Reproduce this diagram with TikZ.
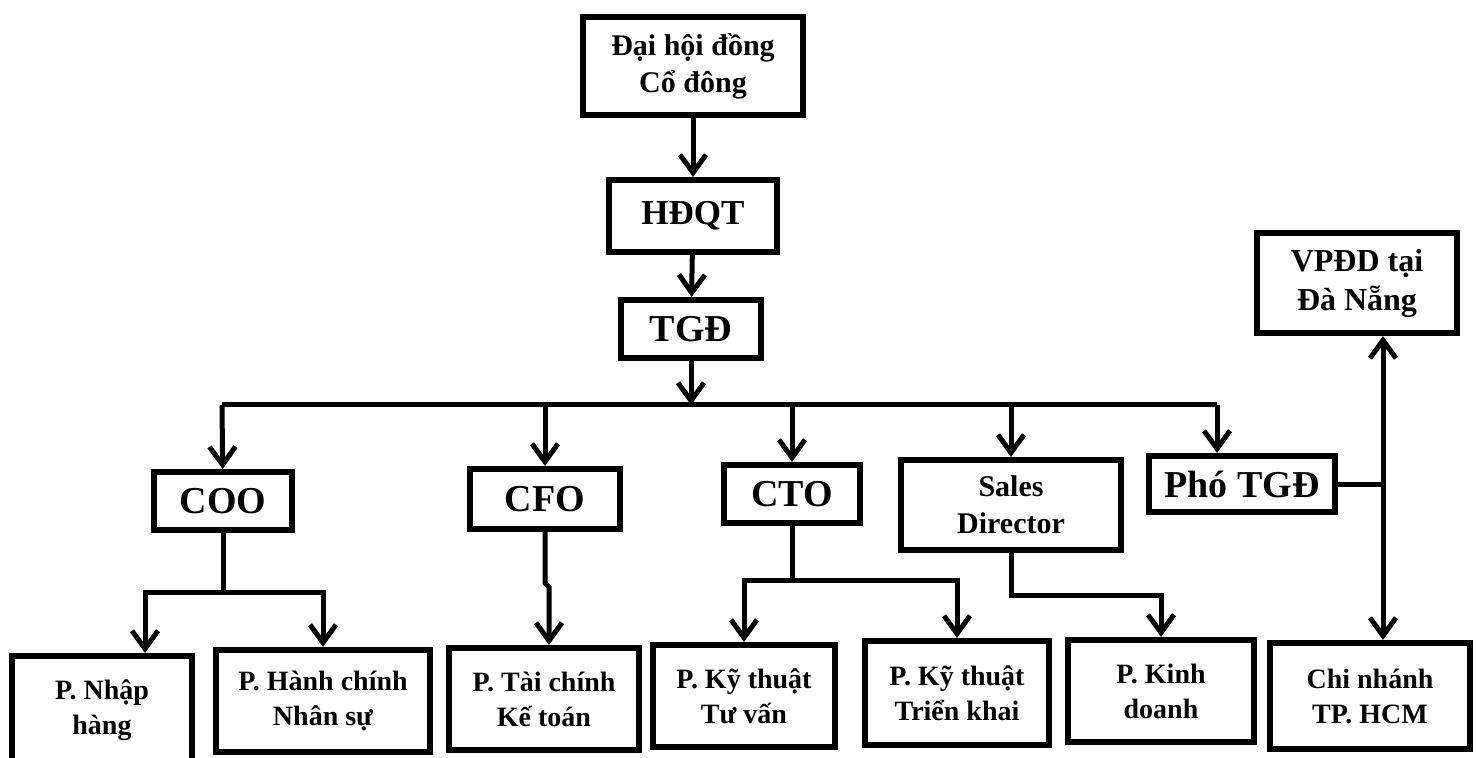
\documentclass[tikz,border=0pt]{standalone}
\usepackage{fontspec}
\setmainfont{Liberation Serif}
\usetikzlibrary{positioning, arrows.meta, calc}

\begin{document}
\begin{tikzpicture}[
    x=0.5pt, y=-0.5pt, % one unit is one pixel of the chart
    box/.style={draw, line width=3pt, align=center, inner sep=0pt},
    big/.style={font=\fontsize{19}{23}\selectfont\bfseries},
    mid/.style={font=\fontsize{15}{18.5}\selectfont\bfseries},
    small/.style={font=\fontsize{14}{17.5}\selectfont\bfseries},
    arr/.style={-{Straight Barb[length=9pt,width=13pt]}, line width=2.5pt},
    link/.style={line width=2.5pt}
]
    \clip (0,0) rectangle (1476,758);

    % Place the top nodes
    \node (dhcd) [box, mid, minimum width=110pt, minimum height=49pt] at (693,66) {Đại hội đồng\\Cổ đông};
    \node (hdqt) [box, font=\fontsize{17.5}{21}\selectfont\bfseries, minimum width=84pt, minimum height=36pt] at (693,216) {HĐQT};
    \node (tgd) [box, big, minimum width=70pt, minimum height=29pt] at (691,329) {TGĐ};

    % the directors
    \node (coo) [box, big, minimum width=69pt, minimum height=29pt] at (223,501) {COO};
    \node (cfo) [box, big, minimum width=75pt, minimum height=30pt] at (545,499) {CFO};
    \node (cto) [box, big, minimum width=68pt, minimum height=29pt] at (792,494) {CTO};
    \node (sales) [box, mid, minimum width=110pt, minimum height=45pt] at (1011,505) {Sales\\Director};
    \node (pho) [box, big, minimum width=93pt, minimum height=28pt] at (1242,484) {Phó TGĐ};
    \node (vpdd) [box, font=\fontsize{16}{19.5}\selectfont\bfseries, minimum width=100pt, minimum height=50pt] at (1357,283) {VPĐD tại\\Đà Nẵng};

    % the departments
    \node (nhap) [box, small, minimum width=90pt, minimum height=54pt] at (102,710) {P. Nhập\\hàng};
    \node (hanhchinh) [box, small, minimum width=107pt, minimum height=51pt] at (323,701) {P. Hành chính\\Nhân sự};
    \node (taichinh) [box, small, minimum width=95pt, minimum height=51pt] at (544,699) {P. Tài chính\\Kế toán};
    \node (tuvan) [box, small, minimum width=91pt, minimum height=51pt] at (744,696) {P. Kỹ thuật\\Tư vấn};
    \node (trienkhai) [box, small, minimum width=92pt, minimum height=52pt] at (957,693) {P. Kỹ thuật\\Triển khai};
    \node (kinhdoanh) [box, small, minimum width=93pt, minimum height=51pt] at (1161,691) {P. Kinh\\doanh};
    \node (chinhanh) [box, small, minimum width=100pt, minimum height=53pt] at (1370,696) {Chi nhánh\\TP. HCM};

    % bend points
    \coordinate (busL) at (222,405);
    \coordinate (busR) at (1217,405);
    \coordinate (cooJ) at (223,592);
    \coordinate (ctoJ) at (795,580);
    \coordinate (jn) at (1383,484);

    % Draw the edges
    \draw [arr] (dhcd) -- (hdqt);
    \draw [arr] (hdqt) -- (tgd);
    \draw [arr] (tgd) -- (tgd |- busL);
    \draw [link] (busL) -- (busR);

    \draw [arr] (busL) -- (coo);
    \draw [arr] (cfo |- busL) -- (cfo);
    \draw [arr] (cto |- busL) -- (cto);
    \draw [arr] (sales |- busL) -- (sales);
    \draw [arr] (busR) -- (busR |- pho.north);

    % under the directors
    \draw [arr] (coo) -- (cooJ) -| ($(nhap.north)+(43,0)$);
    \draw [arr] (cooJ) -| (hanhchinh.north);
    \draw [arr] (cfo) -- ++(0,84) -- ++(4,4) -- ($(taichinh.north)+(5,0)$);
    \draw [arr] (cto) -- (cto |- ctoJ) -| (tuvan.north);
    \draw [arr] (cto |- ctoJ) -| (trienkhai.north);
    \draw [arr] (sales) -- ++(0,90) -| (kinhdoanh.north);

    % the two offices
    \draw [link] (pho) -- (jn);
    \draw [arr] (jn) -- (jn |- vpdd.south);
    \draw [arr] (jn) -- (jn |- chinhanh.north);
\end{tikzpicture}
\end{document}
